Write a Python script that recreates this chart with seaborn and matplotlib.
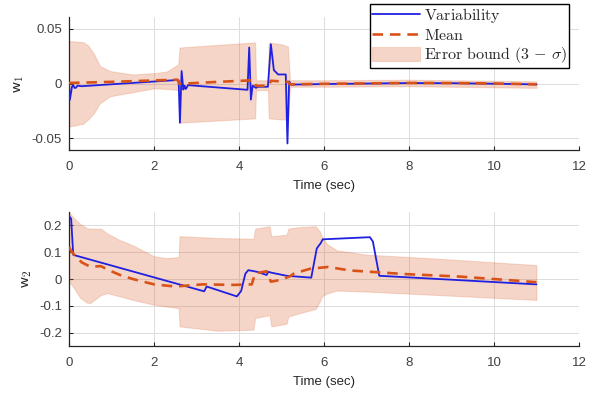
import numpy as np
import pandas as pd
import matplotlib
matplotlib.use("Agg")
import matplotlib.pyplot as plt
import seaborn as sns

# ---------------- data ----------------
# w1: variability (blue)
t_var1 = [0.0, 0.02, 0.07, 0.1, 0.13, 0.16, 0.2, 0.3, 2.55, 2.58, 2.61, 2.65, 2.69, 2.72, 2.75, 2.8,
          4.2, 4.24, 4.28, 4.32, 4.4, 4.45, 4.68, 4.75, 4.82, 4.92, 5.1, 5.14, 5.18, 5.22, 6.0, 8.0, 9.0, 10.0, 11.0]
v_var1 = [0.0, -0.015, -0.003, -0.0015, -0.004, -0.004, -0.002, -0.0025, 0.0032, 0.003, -0.036, 0.0114, -0.0056, -0.002, -0.005, -0.0015,
          -0.0058, 0.033, -0.0148, -0.002, -0.004, -0.003, -0.003, 0.036, 0.0123, 0.0083, 0.0083, -0.055, 0.002, -0.001, -0.0005, 0.0004, 0.0003, -0.0002, -0.0008]
# w1: mean (dashed)
t_mean1 = [0.0, 0.5, 1.0, 2.0, 2.55, 2.6, 3.5, 4.35, 4.4, 4.7, 4.75, 5.15, 5.2, 6.0, 8.0, 9.0, 10.0, 11.0]
v_mean1 = [0.0005, 0.001, 0.0015, 0.0028, 0.0035, -0.0003, 0.0015, 0.003, -0.0022, -0.002, 0.0025, 0.0015, -0.0008, -0.0003, 0.0005, 0.0004, 0.0, -0.0008]
# w1: 3-sigma band
t_band1 = [0.0, 0.33, 0.45, 0.59, 0.73, 0.97, 1.5, 2.0, 2.3, 2.57, 2.6, 3.5, 4.38, 4.4, 4.68, 4.7, 5.0, 5.15, 5.2, 6.0, 8.0, 11.0]
lo_band1 = [-0.0395, -0.037, -0.033, -0.027, -0.018, -0.0117, -0.008, -0.0045, -0.005, -0.006, -0.036, -0.034, -0.032, -0.006, -0.006, -0.032, -0.033, -0.033, -0.003, -0.003, -0.0025, -0.004]
hi_band1 = [0.039, 0.038, 0.035, 0.027, 0.016, 0.0114, 0.0083, 0.0095, 0.011, 0.0176, 0.033, 0.0355, 0.0377, 0.003, 0.003, 0.0377, 0.036, 0.034, 0.003, 0.003, 0.0035, 0.002]

# w2: variability (blue)
t_var2 = [0.0, 0.05, 0.1, 3.18, 3.24, 3.95, 4.05, 4.15, 4.22, 4.42, 4.65, 4.69, 4.75, 5.12, 5.7, 5.83, 5.88, 5.92, 5.97, 7.08, 7.15, 7.3, 11.0]
v_var2 = [0.235, 0.225, 0.09, -0.046, -0.028, -0.065, -0.045, 0.02, 0.033, 0.027, 0.015, 0.027, 0.024, 0.012, 0.005, 0.114, 0.125, 0.133, 0.148, 0.156, 0.14, 0.012, -0.02]
# w2: mean (dashed)
t_mean2 = [0.0, 0.05, 0.15, 0.3, 0.5, 0.75, 0.95, 1.2, 1.5, 2.0, 2.5, 3.15, 3.9, 4.3, 4.38, 4.65, 4.75, 4.96, 5.2, 5.3, 5.67, 6.1, 6.6, 7.95, 9.2, 10.5, 11.0]
v_mean2 = [0.12, 0.105, 0.085, 0.062, 0.046, 0.048, 0.032, 0.015, 0.0, -0.02, -0.028, -0.02, -0.022, -0.02, 0.021, 0.029, -0.01, -0.004, 0.01, 0.021, 0.038, 0.045, 0.032, 0.018, 0.009, -0.006, -0.012]
# w2: 3-sigma band
t_band2 = [0.0, 0.1, 0.26, 0.42, 0.5, 0.75, 0.9, 1.2, 1.5, 2.0, 2.3, 2.58, 2.6, 3.5, 4.34, 4.38, 4.72, 4.76, 5.12, 5.16, 5.44, 5.8, 5.9, 5.95, 6.06, 6.3, 7.0, 8.57, 11.0]
lo_band2 = [-0.01, -0.03, -0.07, -0.088, -0.09, -0.06, -0.053, -0.065, -0.078, -0.096, -0.103, -0.109, -0.177, -0.193, -0.189, -0.146, -0.135, -0.177, -0.167, -0.14, -0.127, -0.112, -0.085, -0.065, -0.055, -0.043, -0.047, -0.059, -0.078]
hi_band2 = [0.25, 0.23, 0.206, 0.19, 0.188, 0.188, 0.17, 0.145, 0.126, 0.085, 0.078, 0.082, 0.16, 0.153, 0.15, 0.188, 0.197, 0.16, 0.165, 0.188, 0.194, 0.197, 0.178, 0.16, 0.132, 0.107, 0.091, 0.077, 0.052]

x_ticks = [0, 2, 4, 6, 8, 10, 12]
y_ticks1 = [-0.05, 0, 0.05]
y_tick_labels1 = ["-0.05", "0", "0.05"]
y_ticks2 = [-0.2, -0.1, 0, 0.1, 0.2]
y_tick_labels2 = ["-0.2", "-0.1", "0", "0.1", "0.2"]

# ---------------- style ----------------
sns.set_style("ticks")
plt.rcParams['font.family'] = ['Liberation Sans', 'DejaVu Sans']
plt.rcParams['mathtext.fontset'] = 'cm'
plt.rcParams['axes.unicode_minus'] = False

BLUE = '#2020e0'
ORANGE = '#D95319'
DARK = '#262626'

fig = plt.figure(figsize=(6.01, 3.95), dpi=100)
W, H = 601, 395
ax1 = fig.add_axes([69 / W, 1 - 150 / H, 510 / W, 133 / H])
ax2 = fig.add_axes([69 / W, 1 - 346 / H, 510 / W, 134 / H])

panels = [
    (ax1, t_var1, v_var1, t_mean1, v_mean1, t_band1, lo_band1, hi_band1, (-0.061, 0.061), y_ticks1, y_tick_labels1, r'$\mathsf{w}_{\mathsf{1}}$'),
    (ax2, t_var2, v_var2, t_mean2, v_mean2, t_band2, lo_band2, hi_band2, (-0.25, 0.25), y_ticks2, y_tick_labels2, r'$\mathsf{w}_{\mathsf{2}}$'),
]

handles = None
for ax, tv, vv, tm, vm, tb, lo, hi, ylim, yt, ytl, ylab in panels:
    band = ax.fill_between(tb, lo, hi, facecolor=(217/255, 83/255, 25/255, 0.24),
                           edgecolor=(217/255, 83/255, 25/255, 0.18), linewidth=0.8, zorder=1)
    df_v = pd.DataFrame({'t': tv, 'v': vv})
    df_m = pd.DataFrame({'t': tm, 'v': vm})
    sns.lineplot(data=df_v, x='t', y='v', ax=ax, color=BLUE, linewidth=1.3, estimator=None, sort=False, zorder=3)
    sns.lineplot(data=df_m, x='t', y='v', ax=ax, color=ORANGE, linewidth=1.9, estimator=None, sort=False, zorder=4,
                 linestyle=(0, (4, 2.6)))
    ax.set_xlim(0, 12)
    ax.set_ylim(*ylim)
    ax.set_xticks(x_ticks)
    ax.set_xticklabels([str(x) for x in x_ticks])
    ax.set_yticks(yt)
    ax.set_yticklabels(ytl)
    ax.grid(True, color='#dcdcdc', linewidth=0.7, zorder=0)
    ax.set_axisbelow(True)
    for s in ['top', 'right']:
        ax.spines[s].set_visible(False)
    for s in ['left', 'bottom']:
        ax.spines[s].set_color(DARK)
        ax.spines[s].set_linewidth(0.9)
    ax.tick_params(axis='x', pad=8)
    ax.tick_params(axis='y', pad=5)
    ax.tick_params(direction='in', length=3, width=0.8, color=DARK, labelcolor='#404040', labelsize=9.5)
    ax.set_xlabel('Time (sec)', fontsize=9.5, color='#262626', labelpad=5)
    ax.set_ylabel(ylab, fontsize=11.5, color='#262626', labelpad=4)
    if handles is None:
        lines = ax.get_lines()
        handles = [lines[0], lines[1], band]

labels = [r'$\mathrm{Variability}$', r'$\mathrm{Mean}$', r'$\mathrm{Error\ bound}\ (3\,-\,\sigma)$']
leg = fig.legend(handles, labels, loc='upper right', bbox_to_anchor=(569 / W, 1 - 4 / H),
                 fontsize=11.5, frameon=True, fancybox=False, edgecolor='black', framealpha=1,
                 borderpad=0.15, handlelength=3.0, handletextpad=0.2, labelspacing=0.14,
                 handleheight=1.0, borderaxespad=0)
leg.get_frame().set_linewidth(1.0)

fig.savefig('out.png', dpi=100)
